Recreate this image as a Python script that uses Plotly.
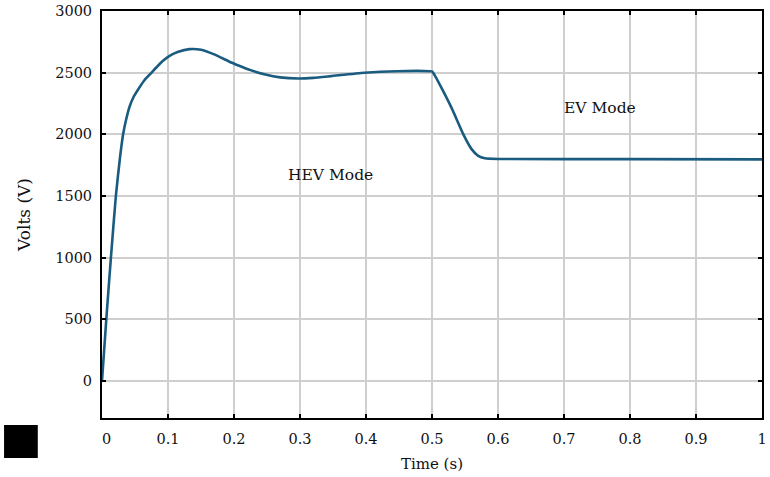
import plotly.graph_objects as go

# Time (s) and voltage (V)
time_s = [0.0, 0.0065, 0.0135, 0.021, 0.027, 0.032, 0.037, 0.042, 0.048, 0.0545, 0.064,
          0.0745, 0.083, 0.092, 0.103, 0.1145, 0.1325, 0.15, 0.17, 0.197, 0.22, 0.2475,
          0.27, 0.2975, 0.32, 0.347, 0.3975, 0.447, 0.497, 0.5, 0.505, 0.515, 0.53,
          0.5475, 0.56, 0.57, 0.58, 0.6, 0.8, 1.0]
volts = [0, 500, 1000, 1500, 1800, 2000, 2130, 2228, 2305, 2362, 2437,
         2497, 2546, 2594, 2638, 2667, 2691, 2686, 2648, 2580, 2530, 2485,
         2462, 2453, 2458, 2472, 2499, 2512, 2512, 2510, 2470, 2370, 2210,
         2000, 1880, 1825, 1806, 1800, 1799, 1797]

x_ticks = [0, 0.1, 0.2, 0.3, 0.4, 0.5, 0.6, 0.7, 0.8, 0.9, 1.0]
x_tick_text = ["\u00a0\u00a00", "0.1", "0.2", "0.3", "0.4", "0.5", "0.6", "0.7", "0.8", "0.9", "1"]
y_ticks = [0, 500, 1000, 1500, 2000, 2500, 3000]
y_tick_text = ["0", "500", "1000", "1500", "2000", "2500", "3000"]

mode_labels = ["HEV Mode", "EV Mode"]
mode_x = [0.346, 0.755]
mode_y = [1672, 2215]

serif = "DejaVu Serif, serif"

fig = go.Figure()
fig.add_trace(go.Scatter(x=time_s, y=volts, mode="lines",
                         line=dict(color="#1a5b80", width=2.6, shape="spline", smoothing=0.5),
                         showlegend=False))

for txt, xx, yy in zip(mode_labels, mode_x, mode_y):
    fig.add_annotation(x=xx, y=yy, text=txt, showarrow=False,
                       font=dict(family=serif, size=15.5, color="#111"))

axis_common = dict(showgrid=True, gridcolor="#cfcfcf", gridwidth=1.5,
                   showline=True, linecolor="black", linewidth=2, mirror="ticks",
                   ticks="inside", ticklen=4, tickcolor="black", tickwidth=2,
                   zeroline=False, tickfont=dict(family=serif, size=14.5, color="#111"))

fig.update_xaxes(range=[0, 1.0], tickvals=x_ticks, ticktext=x_tick_text,
                 title=dict(text="Time (s)", font=dict(family=serif, size=15, color="#111"), standoff=12),
                 ticklabelstandoff=7, **axis_common)
fig.update_yaxes(range=[-300, 3000], tickvals=y_ticks, ticktext=y_tick_text,
                 title=dict(text="Volts (V)", font=dict(family=serif, size=17, color="#111"), standoff=20),
                 ticklabelstandoff=5, **axis_common)

fig.add_shape(type="rect", xref="paper", yref="paper",
              x0=-0.1484, x1=-0.0973, y0=-0.0982, y1=-0.0172,
              fillcolor="black", line=dict(width=0))

fig.update_layout(width=770, height=477, plot_bgcolor="white", paper_bgcolor="white",
                  margin=dict(l=102, r=3, t=10, b=59))

fig.write_html("out.html", config={"displayModeBar": False},
               post_script="document.body.style.margin='0px';")
